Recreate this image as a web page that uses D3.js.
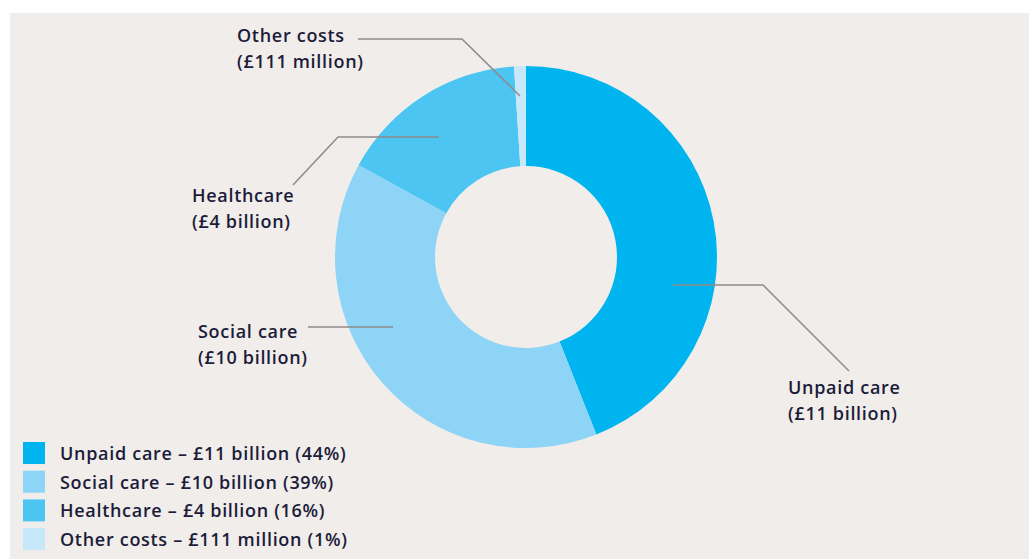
<html>
<head>
<script src="https://d3js.org/d3.v7.min.js"></script>
<style>
    html, body {
        width: 100%;
        height: 100%;
        margin: 0;
        padding: 0;
        background: #ffffff;
    }
    text {
        font-family: "Open Sans", sans-serif;
        font-weight: 600;
        letter-spacing: 0.7px;
        fill: #1c1c3a;
    }
</style>
</head>
<body>
<script>
    var width = 1030;
    var height = 559;

    // chart data
    var categories = ["Unpaid care", "Social care", "Healthcare", "Other costs"];
    var amounts = ["£11 billion", "£10 billion", "£4 billion", "£111 million"];
    var shares = [44, 39, 16, 1];
    var colours = ["#00b5ef", "#8dd4f6", "#4cc5f3", "#c6e8fa"];

    var svg = d3.select("body").append("svg")
        .attr("width", width)
        .attr("height", height);

    // panel
    svg.append("rect")
        .attr("x", 10).attr("y", 13)
        .attr("width", width - 11).attr("height", height - 13)
        .attr("fill", "#f0edea");

    var cx = 526, cy = 257;
    var outerR = 191, innerR = 91;

    var pie = d3.pie().sort(null).value(function (d) { return d; });
    var arc = d3.arc().innerRadius(innerR).outerRadius(outerR);
    var arcs = pie(shares);

    var g = svg.append("g").attr("transform", "translate(" + cx + "," + cy + ")");
    g.selectAll("path")
        .data(arcs)
        .enter().append("path")
        .attr("d", arc)
        .attr("fill", function (d, i) { return colours[i]; });

    // callouts: line points (page coords) and label anchor
    var callouts = [
        { line: [[673, 285], [763, 285], [849, 371]], x: 788, y: 394 },
        { line: [[393, 327], [308, 327]], x: 198, y: 338 },
        { line: [[439, 137], [338, 137], [293, 185]], x: 192, y: 202 },
        { line: [[520, 96], [462, 39], [358, 39]], x: 237, y: 42 }
    ];

    var lineGen = d3.line();
    callouts.forEach(function (c, i) {
        svg.append("path")
            .attr("d", lineGen(c.line))
            .attr("fill", "none")
            .attr("stroke", "#8f8a88")
            .attr("stroke-width", 1.5);
        var t = svg.append("text")
            .attr("x", c.x).attr("y", c.y)
            .attr("font-size", 18);
        t.append("tspan").attr("x", c.x).text(categories[i]);
        t.append("tspan").attr("x", c.x).attr("dy", 26).text("(" + amounts[i] + ")");
    });

    // legend
    var legend = svg.append("g");
    var rows = legend.selectAll("g")
        .data(categories)
        .enter().append("g")
        .attr("transform", function (d, i) { return "translate(23," + (442 + i * 28.7) + ")"; });
    rows.append("rect")
        .attr("width", 22).attr("height", 22)
        .attr("fill", function (d, i) { return colours[i]; });
    rows.append("text")
        .attr("x", 37).attr("y", 18)
        .attr("font-size", 18)
        .text(function (d, i) { return d + " – " + amounts[i] + " (" + shares[i] + "%)"; });
</script>
</body>
</html>
